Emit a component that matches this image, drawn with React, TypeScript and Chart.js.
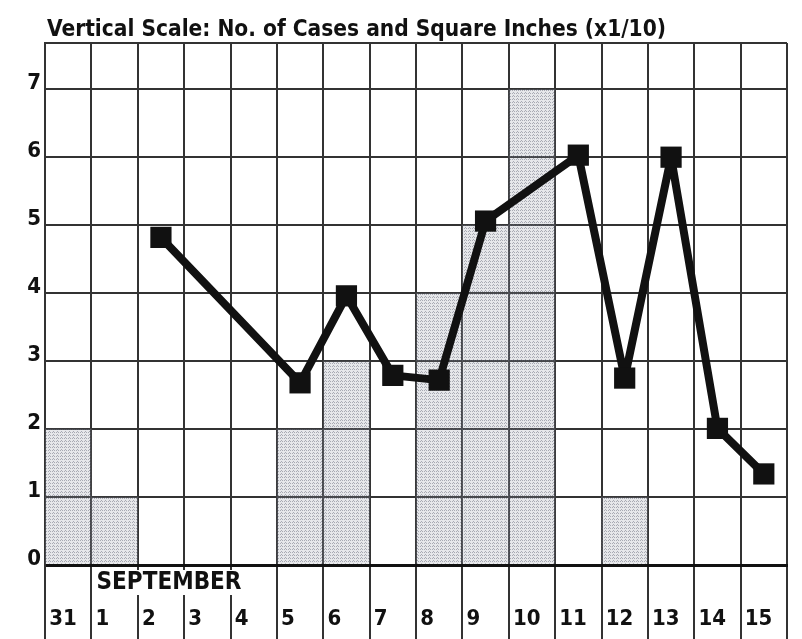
import React, { useEffect, useRef } from "react";
import { Chart, registerables } from "chart.js";

Chart.register(...registerables);

const categories = ["31", "1", "2", "3", "4", "5", "6", "7", "8", "9", "10", "11", "12", "13", "14", "15"];
const barValues = [2, 1, null, null, null, 2, 3, null, 4, 5, 7, null, 1, null, null, null];
const lineValues = [null, null, 4.82, null, null, 2.68, 3.96, 2.79, 2.72, 5.06, null, 6.03, 2.75, 6.0, 2.01, 1.34];
const titleText = "Vertical Scale: No. of Cases and Square Inches (x1/10)";
const monthText = "SEPTEMBER";
const yMax = 7.68;

const FONT = "'DejaVu Sans Condensed', 'DejaVu Sans', sans-serif";

function makePattern(): CanvasPattern | string {
  const c = document.createElement("canvas");
  c.width = 4;
  c.height = 3;
  const g = c.getContext("2d");
  if (!g) return "rgba(150,155,170,0.35)";
  g.fillStyle = "rgba(140,145,160,0.22)";
  g.fillRect(0, 0, 4, 3);
  g.fillStyle = "rgba(90,95,110,0.45)";
  g.fillRect(0, 0, 1, 1);
  g.fillRect(2, 0, 1, 1);
  g.fillRect(1, 2, 1, 1);
  const pat = (document.createElement("canvas").getContext("2d") as CanvasRenderingContext2D).createPattern(c, "repeat");
  return pat || "rgba(150,155,170,0.35)";
}

const textPlugin = {
  id: "extraText",
  afterDraw(chart: any) {
    const { ctx, chartArea } = chart;
    ctx.save();
    ctx.fillStyle = "#111";
    ctx.font = `bold 22.5px ${FONT}`;
    ctx.textBaseline = "middle";
    ctx.textAlign = "left";
    ctx.fillText(titleText, chartArea.left + 2, 30);
    const xs = chart.scales.x;
    const x0 = xs.getPixelForValue(1) - 23;
    ctx.font = `bold 24px ${FONT}`;
    const w = ctx.measureText(monthText).width;
    ctx.fillStyle = "#fff";
    ctx.fillRect(x0 + 3, chartArea.bottom + 5, w + 4, 25);
    ctx.fillStyle = "#111";
    ctx.fillText(monthText, x0 + 5, chartArea.bottom + 18);
    ctx.restore();
  },
};

export default function App() {
  const ref = useRef<HTMLCanvasElement>(null);
  useEffect(() => {
    if (!ref.current) return;
    const pattern = makePattern();
    const chart = new Chart(ref.current, {
      type: "bar",
      data: {
        labels: categories,
        datasets: [
          {
            type: "line",
            data: lineValues as any,
            borderColor: "#111",
            borderWidth: 8,
            borderJoinStyle: "round",
            backgroundColor: "#111",
            pointStyle: "rect",
            pointRadius: 15,
            pointBorderWidth: 0,
            spanGaps: true,
            order: 0,
          } as any,
          {
            type: "bar",
            data: barValues as any,
            backgroundColor: pattern as any,
            borderWidth: 0,
            barPercentage: 1,
            categoryPercentage: 1,
            order: 1,
          },
        ],
      },
      options: {
        responsive: false,
        animation: false,
        layout: { padding: { top: 43, right: 15, left: 0, bottom: 0 } },
        plugins: { legend: { display: false }, tooltip: { enabled: false } },
        scales: {
          x: {
            offset: true,
            grid: { offset: true, color: "#333", lineWidth: 2, tickLength: 74, drawTicks: true },
            border: { color: "#111", width: 3 },
            ticks: {
              align: "start",
              labelOffset: -19,
              padding: -33,
              color: "#111",
              font: { family: FONT, size: 22, weight: "bold" },
              maxRotation: 0,
              autoSkip: false,
            },
            afterFit: (s: any) => {
              s.height = 74;
            },
          },
          y: {
            min: 0,
            max: yMax,
            grid: {
              drawTicks: false,
              color: (c: any) => (c.tick && c.tick.value === 0 ? "#111" : "#333"),
              lineWidth: (c: any) => (c.tick && c.tick.value === 0 ? 3 : 2),
            },
            border: { color: "#333", width: 2 },
            ticks: {
              stepSize: 1,
              padding: 4,
              labelOffset: -6,
              color: "#111",
              font: { family: FONT, size: 22, weight: "bold" },
              callback: (v: any) => (Number.isInteger(v) ? String(v) : ""),
            },
            afterFit: (s: any) => {
              s.width = 45;
            },
          },
        },
      } as any,
      plugins: [textPlugin],
    });
    return () => chart.destroy();
  }, []);
  return (
    <div style={{ position: "fixed", left: 0, top: 0, width: 802, height: 639, background: "#fff" }}>
      <canvas ref={ref} width={802} height={639} style={{ display: "block" }} />
    </div>
  );
}
